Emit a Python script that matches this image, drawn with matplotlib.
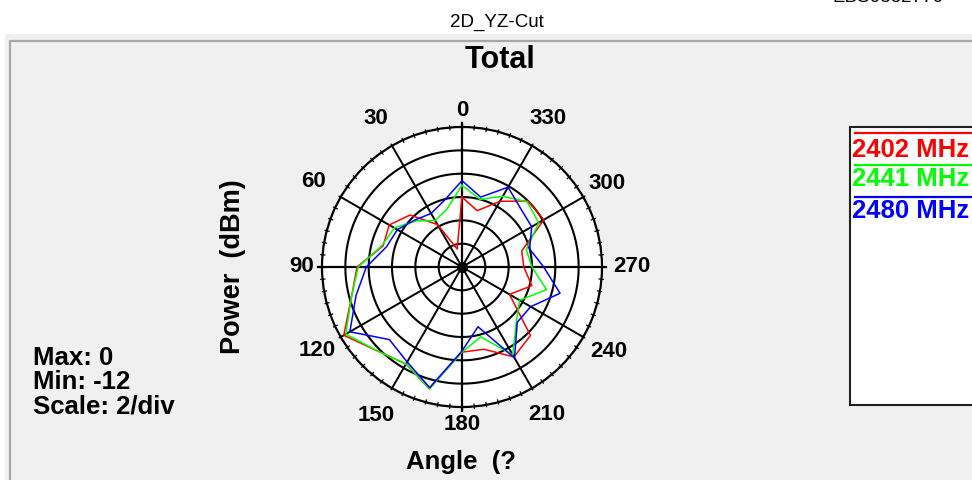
import numpy as np
import matplotlib
matplotlib.use('Agg')
import matplotlib.pyplot as plt
from matplotlib.patches import Rectangle
from matplotlib.lines import Line2D

W, H = 972, 480

# data (dBm every 15 deg)
angles = [0, 15, 30, 45, 60, 75, 90, 105, 120, 135, 150, 165,
          180, 195, 210, 225, 240, 255, 270, 285, 300, 315, 330, 345]
p2402 = [-6.0, -10.4, -7.8, -5.7, -4.8, -5.0, -3.0, -2.2, -0.3, -1.8, -2.4, -1.2,
         -4.7, -4.7, -3.1, -3.7, -7.3, -5.8, -6.7, -6.7, -3.9, -4.0, -5.5, -7.0]
p2441 = [-5.0, -6.9, -7.4, -6.4, -5.3, -4.9, -3.1, -2.2, -0.5, -1.8, -2.4, -1.2,
         -4.7, -5.8, -3.3, -5.4, -6.3, -4.5, -6.0, -6.3, -4.4, -4.1, -5.0, -6.0]
p2480 = [-4.6, -6.1, -6.7, -6.3, -5.6, -5.3, -3.8, -2.6, -0.9, -3.2, -2.6, -1.3,
         -4.8, -6.7, -3.0, -5.3, -5.2, -3.3, -5.0, -6.0, -5.1, -4.9, -4.1, -5.8]
freqs = ['2402 MHz', '2441 MHz', '2480 MHz']
colors = ['#ff0000', '#00ff00', '#0000ff']

rmin, rmax = -12, 0
rings = [-10, -8, -6, -4, -2]
spoke_angles = [0, 30, 60, 90, 120, 150, 180, 210, 240, 270, 300, 330]
spoke_labels = ['0', '30', '60', '90', '120', '150', '180', '210', '240', '270', '300', '330']
label_dist = [157, 172, 171, 160, 167, 171, 158, 170, 169, 170, 167, 172]

plt.rcParams['font.family'] = ['Liberation Sans', 'DejaVu Sans']

fig = plt.figure(figsize=(9.72, 4.8), dpi=100)
fig.patch.set_facecolor('white')


def fx(x):
    return x / W


def fy(y):
    return 1 - y / H


# grey panel + border
fig.add_artist(Rectangle((fx(5), 0), 1, fy(34), transform=fig.transFigure,
                         facecolor='#f0f0f0', edgecolor='none', zorder=0))
fig.add_artist(Line2D([fx(9.5), fx(9.5), 1], [0, fy(41), fy(41)], transform=fig.transFigure,
                      color='#a8a8a8', lw=1.6, zorder=1))

fig.text(fx(497), fy(22), '2D_YZ-Cut', ha='center', va='center', fontsize=13.5)
# file name at the very top, mostly outside the picture as in the screenshot
fig.text(fx(832), fy(2.5), 'EBS0882770', ha='left', va='baseline', fontsize=13.5)
fig.text(fx(500), fy(60), 'Total', ha='center', va='center', fontsize=22, fontweight='bold')

# polar plot
cx, cy, R = 462, 267, 140
ax = fig.add_axes([fx(cx - R), fy(cy + R), 2 * R / W, 2 * R / H], projection='polar')
ax.set_theta_zero_location('N')
ax.set_theta_direction(1)
ax.set_ylim(rmin, rmax)
ax.grid(False)
ax.set_xticks([])
ax.set_yticks([])
ax.set_facecolor('white')
ax.spines['polar'].set_linewidth(1.6)

circ = np.linspace(0, 2 * np.pi, 361)
for r in rings:
    ax.plot(circ, np.full_like(circ, r), color='k', lw=1.5, zorder=1)
for a in spoke_angles:
    top = 0.35 if a % 90 == 0 else rmax
    ax.plot([np.deg2rad(a)] * 2, [rmin, top], color='k', lw=1.6 if a % 90 == 0 else 1.4,
            zorder=1, clip_on=False)
for a in range(0, 360, 5):
    ax.plot([np.deg2rad(a)] * 2, [-0.2, 0.15], color='k', lw=0.9, zorder=1, clip_on=False)
ax.plot([0], [rmin], 'o', color='k', ms=7, zorder=4)

for vals, col in zip([p2402, p2441, p2480], colors):
    th = np.deg2rad(angles + [angles[0]])
    ax.plot(th, vals + [vals[0]], color=col, lw=1.1, zorder=3)

for a, lab, d in zip(spoke_angles, spoke_labels, label_dist):
    ax.text(np.deg2rad(a), rmin + d / R * (rmax - rmin), lab, ha='center', va='center',
            fontsize=16, fontweight='bold', clip_on=False)

fig.text(fx(233), fy(267), 'Power  (dBm)', rotation=90, ha='center', va='center',
         fontsize=19.5, fontweight='bold')
fig.text(fx(461), fy(462), 'Angle  (?', ha='center', va='center', fontsize=18.5, fontweight='bold')

for txt, y in zip(['Max: 0', 'Min: -12', 'Scale: 2/div'], [358, 382, 406]):
    fig.text(fx(33), fy(y), txt, ha='left', va='center', fontsize=18.5, fontweight='bold')

# legend box
fig.add_artist(Rectangle((fx(849.5), fy(405)), 1, (405 - 127) / H, transform=fig.transFigure,
                         facecolor='white', edgecolor='#202020', lw=1.5, zorder=2))
for lab, col, ly, ty in zip(freqs, colors, [133, 164.5, 196.5], [150, 179, 211]):
    fig.add_artist(Line2D([fx(855), 1], [fy(ly), fy(ly)], transform=fig.transFigure,
                          color=col, lw=1.6, zorder=3))
    fig.text(fx(852), fy(ty), lab, ha='left', va='center', color=col, fontsize=18.5,
             fontweight='bold', zorder=3)

fig.savefig('out.png', dpi=100, facecolor=fig.get_facecolor())
